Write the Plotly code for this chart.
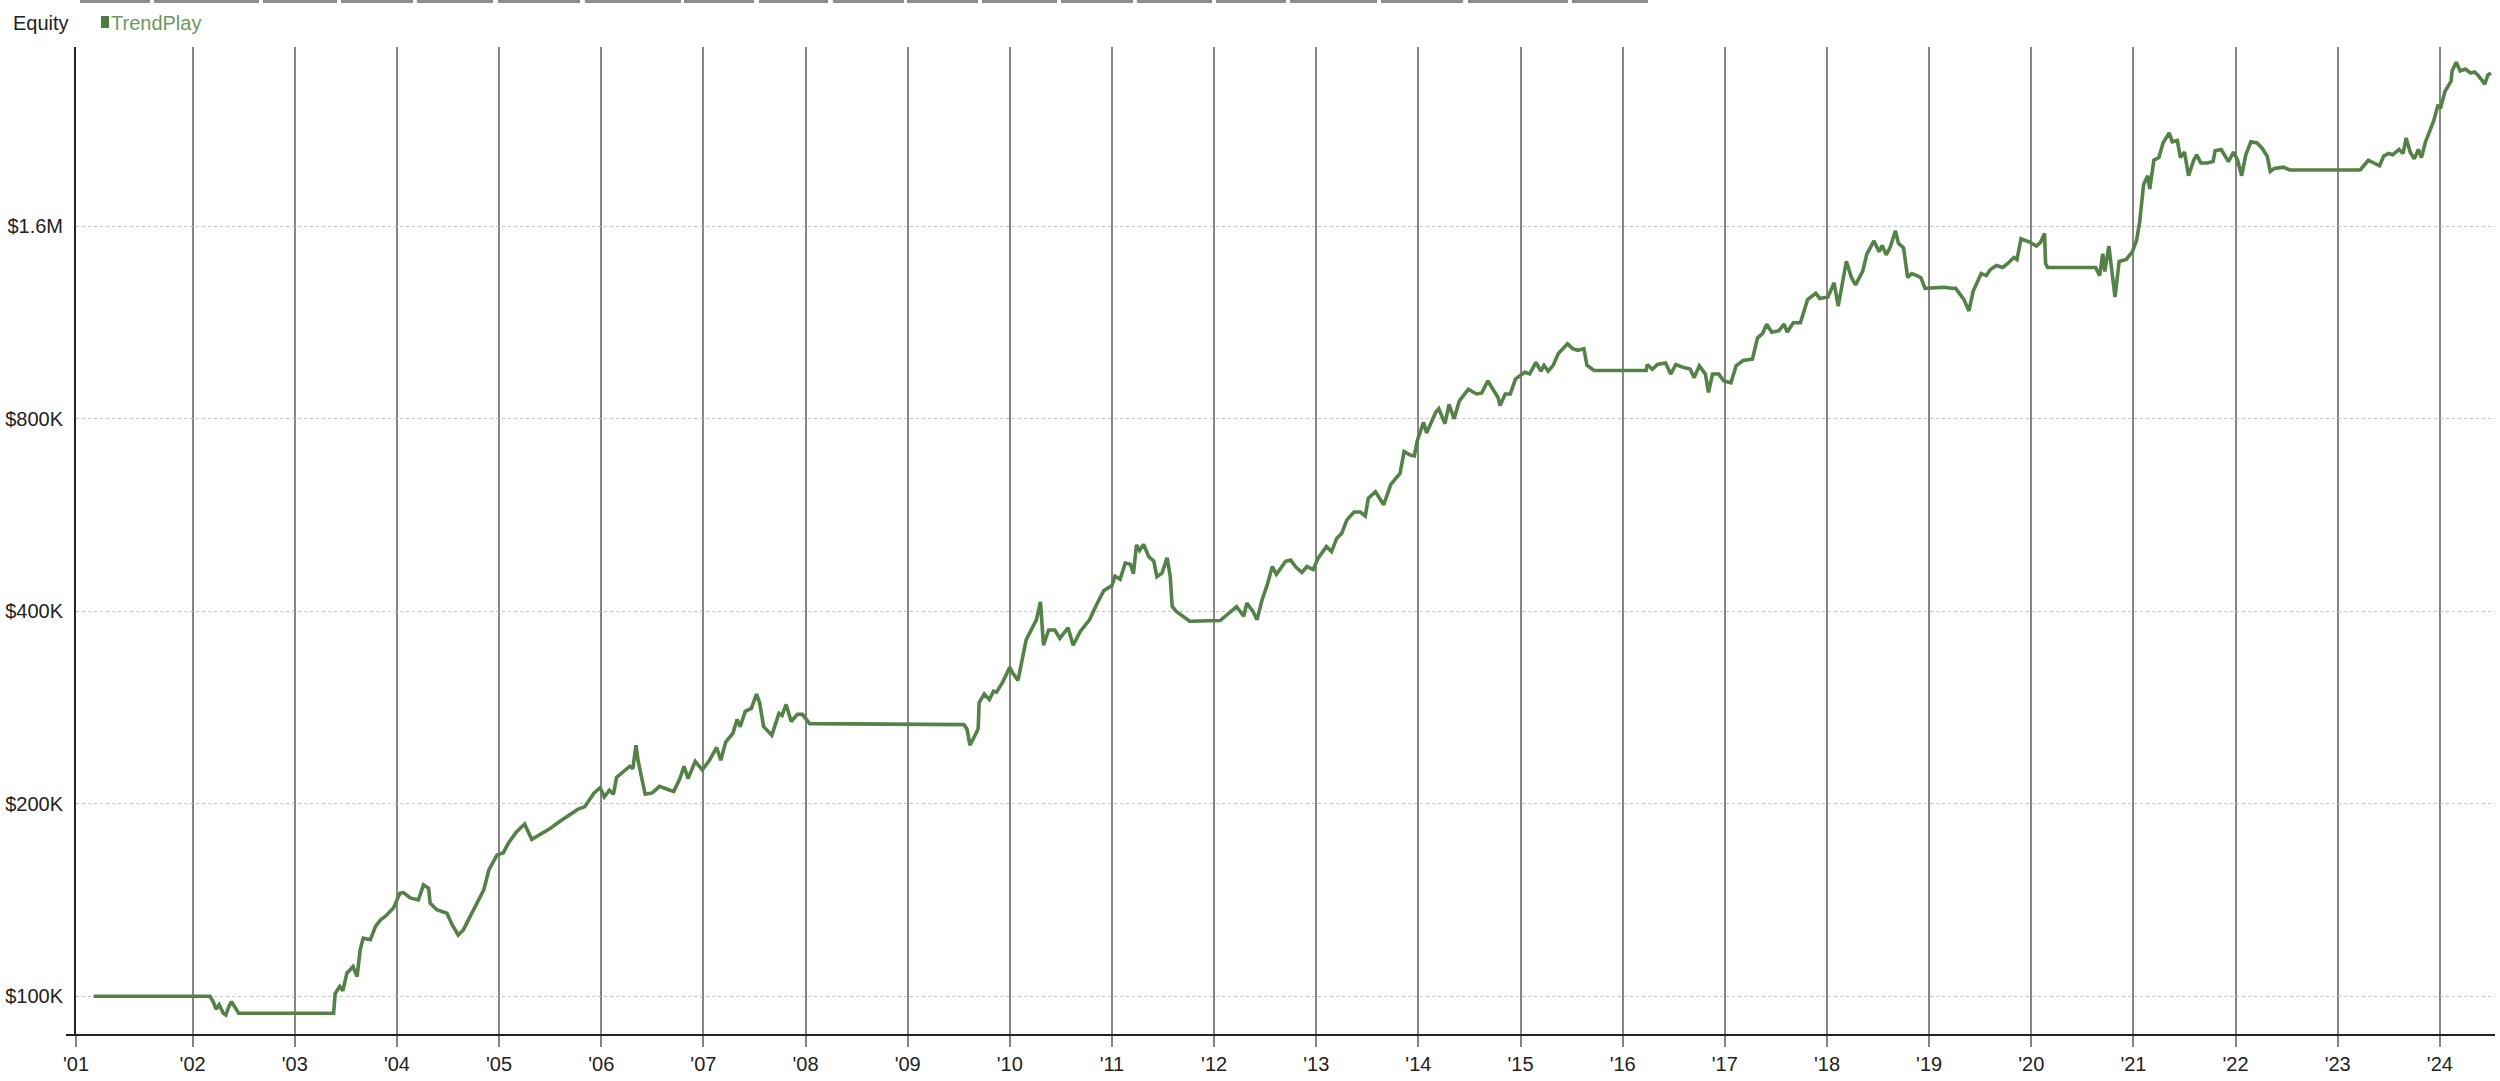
import plotly.graph_objects as go

# ---------------- data ----------------
series_name = "TrendPlay"
panel_title = "Equity"

years = [
    2001.03, 2002.17, 2002.20, 2002.23, 2002.26, 2002.30, 2002.325, 2002.35, 2002.38, 2002.41, 2002.45,
    2003.38, 2003.395, 2003.44, 2003.47, 2003.51, 2003.57, 2003.61, 2003.64, 2003.67, 2003.74, 2003.79,
    2003.84, 2003.885, 2003.92, 2003.966, 2004.03, 2004.064, 2004.13, 2004.21, 2004.26, 2004.31, 2004.325,
    2004.39, 2004.49, 2004.54, 2004.60, 2004.65, 2004.75, 2004.85, 2004.90, 2004.98, 2005.04, 2005.09,
    2005.17, 2005.25, 2005.32, 2005.40, 2005.50, 2005.60, 2005.70, 2005.77, 2005.84, 2005.93, 2005.99,
    2006.03, 2006.08, 2006.12, 2006.15, 2006.22, 2006.28, 2006.31, 2006.34, 2006.36, 2006.40, 2006.43,
    2006.50, 2006.57, 2006.64, 2006.71, 2006.77, 2006.81, 2006.85, 2006.92, 2006.99, 2007.06, 2007.13,
    2007.17, 2007.22, 2007.29, 2007.33, 2007.36, 2007.41, 2007.47, 2007.52, 2007.55, 2007.59, 2007.67,
    2007.74, 2007.77, 2007.81, 2007.86, 2007.92, 2007.97, 2008.04, 2009.55, 2009.58, 2009.61, 2009.66,
    2009.69, 2009.70, 2009.75, 2009.80, 2009.84, 2009.87, 2009.93, 2010.00, 2010.03, 2010.08, 2010.16,
    2010.26, 2010.30, 2010.33, 2010.38, 2010.44, 2010.49, 2010.57, 2010.62, 2010.69, 2010.78, 2010.85,
    2010.92, 2011.00, 2011.03, 2011.08, 2011.13, 2011.18, 2011.21, 2011.24, 2011.27, 2011.31, 2011.36,
    2011.41, 2011.44, 2011.49, 2011.54, 2011.57, 2011.59, 2011.63, 2011.70, 2011.76, 2012.06, 2012.12,
    2012.22, 2012.29, 2012.32, 2012.38, 2012.42, 2012.47, 2012.52, 2012.57, 2012.61, 2012.70, 2012.75,
    2012.80, 2012.86, 2012.91, 2012.97, 2013.02, 2013.10, 2013.15, 2013.20, 2013.25, 2013.30, 2013.37,
    2013.43, 2013.48, 2013.51, 2013.58, 2013.66, 2013.73, 2013.82, 2013.86, 2013.92, 2013.96, 2013.99,
    2014.05, 2014.08, 2014.17, 2014.20, 2014.26, 2014.30, 2014.35, 2014.40, 2014.47, 2014.49, 2014.57,
    2014.62, 2014.68, 2014.73, 2014.78, 2014.80, 2014.85, 2014.90, 2014.95, 2015.04, 2015.09, 2015.15,
    2015.20, 2015.23, 2015.27, 2015.32, 2015.37, 2015.46, 2015.51, 2015.56, 2015.62, 2015.65, 2015.72,
    2016.23, 2016.24, 2016.29, 2016.34, 2016.42, 2016.47, 2016.52, 2016.59, 2016.66, 2016.70, 2016.75,
    2016.81, 2016.84, 2016.88, 2016.94, 2016.99, 2017.06, 2017.11, 2017.18, 2017.27, 2017.32, 2017.37,
    2017.41, 2017.46, 2017.53, 2017.58, 2017.61, 2017.67, 2017.74, 2017.81, 2017.89, 2017.93, 2018.01,
    2018.07, 2018.11, 2018.14, 2018.19, 2018.24, 2018.28, 2018.35, 2018.39, 2018.46, 2018.51, 2018.54,
    2018.58, 2018.62, 2018.67, 2018.70, 2018.75, 2018.79, 2018.83, 2018.88, 2018.92, 2018.96, 2019.15,
    2019.22, 2019.26, 2019.34, 2019.39, 2019.43, 2019.51, 2019.56, 2019.60, 2019.66, 2019.72, 2019.77,
    2019.83, 2019.86, 2019.90, 2019.99, 2020.05, 2020.09, 2020.13, 2020.14, 2020.16, 2020.63, 2020.67,
    2020.70, 2020.72, 2020.76, 2020.79, 2020.82, 2020.86, 2020.93, 2020.99, 2021.03, 2021.06, 2021.10,
    2021.14, 2021.16, 2021.20, 2021.25, 2021.29, 2021.35, 2021.38, 2021.43, 2021.46, 2021.50, 2021.54,
    2021.59, 2021.62, 2021.66, 2021.72, 2021.78, 2021.80, 2021.86, 2021.93, 2021.98, 2022.02, 2022.06,
    2022.10, 2022.15, 2022.21, 2022.26, 2022.31, 2022.34, 2022.38, 2022.47, 2022.53, 2023.22, 2023.30,
    2023.37, 2023.41, 2023.45, 2023.50, 2023.54, 2023.60, 2023.64, 2023.67, 2023.71, 2023.75, 2023.79,
    2023.82, 2023.86, 2023.94, 2023.98, 2024.01, 2024.05, 2024.11, 2024.12, 2024.16, 2024.20, 2024.25,
    2024.30, 2024.34, 2024.38, 2024.44, 2024.47, 2024.50,
]

equity_k = [
    100, 100, 98.1, 95.5, 97, 94.1, 93.5, 96, 98.1, 96.5, 94.1,
    94.1, 101, 103.6, 102, 108.7, 111.3, 107.4, 118.2, 123.3, 122.6, 128.6,
    131.7, 133.3, 134.9, 137.4, 145, 145.3, 142.5, 141.5, 149.4, 147.6, 139.9,
    136.6, 134.9, 129.4, 124.7, 127, 136.5, 146.7, 157.6, 166.4, 167.5, 173.5,
    180.8, 186, 176, 179, 183, 188, 193, 196, 198, 208, 212,
    205, 210, 207, 220, 225, 229, 227, 247, 234, 218, 207,
    208, 213, 211, 209, 219, 229, 219, 233, 226, 234, 245,
    234, 250, 258, 271, 264, 279, 282, 297, 288, 264, 256,
    277, 275, 286, 269, 276, 276, 267, 266, 262, 247, 256,
    262, 288, 297, 291, 300, 299, 310, 327, 320, 312, 361,
    388, 414, 354, 374, 374, 363, 377, 354, 372, 388, 410,
    431, 439, 454, 449, 476, 474, 458, 508, 498, 509, 487,
    479, 453, 459, 485, 454, 407, 400, 393, 386, 387, 395,
    407, 393, 412, 400, 388, 417, 440, 470, 457, 479, 481,
    469, 460, 470, 465, 485, 505, 496, 520, 530, 556, 572,
    572, 564, 601, 615, 587, 632, 657, 711, 702, 700, 740,
    790, 760, 819, 830, 786, 843, 800, 853, 882, 890, 875,
    878, 917, 890, 864, 839, 875, 875, 923, 946, 941, 980,
    950, 970, 950, 970, 1012, 1048, 1030, 1024, 1030, 970, 952,
    952, 973, 956, 973, 978, 940, 973, 963, 957, 928, 968,
    940, 880, 940, 940, 917, 911, 968, 987, 992, 1070, 1088,
    1125, 1093, 1099, 1125, 1093, 1131, 1131, 1229, 1257, 1234, 1241,
    1306, 1200, 1280, 1411, 1330, 1296, 1362, 1448, 1518, 1460, 1493,
    1444, 1485, 1575, 1505, 1480, 1331, 1350, 1340, 1330, 1280, 1285,
    1280, 1280, 1230, 1180, 1265, 1350, 1340, 1370, 1390, 1380, 1400,
    1430, 1420, 1530, 1510, 1490, 1510, 1560, 1400, 1380, 1380, 1340,
    1450, 1360, 1490, 1370, 1240, 1410, 1420, 1460, 1520, 1620, 1860,
    1920, 1830, 2030, 2050, 2160, 2240, 2170, 2180, 2050, 2090, 1920,
    2030, 2070, 2010, 2010, 2020, 2100, 2110, 2020, 2090, 2030, 1920,
    2070, 2170, 2160, 2120, 2060, 1950, 1970, 1980, 1960, 1960, 2030,
    2000, 1990, 2060, 2080, 2070, 2110, 2080, 2200, 2090, 2040, 2110,
    2050, 2170, 2340, 2470, 2460, 2600, 2700, 2800, 2890, 2800, 2820,
    2780, 2790, 2750, 2670, 2760, 2780,
]

x_tick_positions = [2000.858] + list(range(2002, 2025))
x_tick_labels = ["'01"] + ["'%02d" % (y % 100) for y in range(2002, 2025)]
y_tick_values = [100000, 200000, 400000, 800000, 1600000]
y_tick_labels = ["$100K", "$200K", "$400K", "$800K", "$1.6M"]

equity = [v * 1000 for v in equity_k]

# ---------------- layout geometry ----------------
W, H = 2500, 1081
L, R, T, B = 76, 2495, 47, 1035
FONT = "Liberation Sans, Arial, sans-serif"
LINE_GREEN = "#538246"


def px(xp):
    return (xp - L) / (R - L)


def py(yp):
    return (B - yp) / (B - T)


fig = go.Figure()
fig.add_trace(go.Scatter(
    x=years, y=equity, mode="lines", name=series_name,
    line=dict(color=LINE_GREEN, width=3.6),
    showlegend=False,
))

shapes = []
# x axis line extending slightly left of the y axis
shapes.append(dict(type="line", xref="paper", yref="paper",
                   x0=px(66), x1=1.0, y0=0, y1=0,
                   line=dict(color="#222222", width=2)))
# top tab strips
tabs = [(80, 150), (154, 259), (263, 337), (341, 413), (417, 493), (498, 580), (585, 681),
        (684, 754), (759, 828), (833, 904), (907, 978), (982, 1057), (1061, 1133),
        (1137, 1212), (1216, 1286), (1290, 1377), (1381, 1463), (1468, 1568), (1572, 1648)]
for a, b in tabs:
    shapes.append(dict(type="rect", xref="paper", yref="paper",
                       x0=px(a), x1=px(b), y0=py(3), y1=py(0),
                       line=dict(width=0), fillcolor="#8c8c8c", layer="above"))
# legend square
shapes.append(dict(type="rect", xref="paper", yref="paper",
                   x0=px(101), x1=px(109), y0=py(28), y1=py(16),
                   line=dict(width=0), fillcolor="#4e7d3f"))

annotations = [
    dict(text=panel_title, xref="paper", yref="paper", x=px(11), y=py(23),
         xanchor="left", yanchor="middle", showarrow=False,
         font=dict(family=FONT, size=20, color="#222222")),
    dict(text=series_name, xref="paper", yref="paper", x=px(109), y=py(23),
         xanchor="left", yanchor="middle", showarrow=False,
         font=dict(family=FONT, size=20, color="#6b9a5c")),
]

fig.update_layout(
    width=W, height=H,
    margin=dict(l=L, r=W - R, t=T, b=H - B),
    paper_bgcolor="white", plot_bgcolor="white",
    font=dict(family=FONT, size=20, color="#222222"),
    shapes=shapes, annotations=annotations,
    showlegend=False,
    xaxis=dict(
        range=[2000.858, 2024.54],
        tickmode="array", tickvals=x_tick_positions, ticktext=x_tick_labels,
        showgrid=True, gridcolor="#858585", gridwidth=1.6,
        ticks="outside", ticklen=11, tickwidth=1.6, tickcolor="#858585",
        showline=False, zeroline=False,
        tickfont=dict(family=FONT, size=20, color="#222222"),
    ),
    yaxis=dict(
        type="log",
        range=[4.9395, 6.4846],
        tickmode="array", tickvals=y_tick_values, ticktext=y_tick_labels,
        showgrid=True, gridcolor="#c4c4c4", gridwidth=1, griddash="dot",
        ticks="", ticklabelstandoff=7,
        showline=True, linecolor="#222222", linewidth=2,
        zeroline=False,
        tickfont=dict(family=FONT, size=20, color="#222222"),
    ),
)

fig.write_html("out.html", config={"displayModeBar": False},
               post_script="document.body.style.margin='0';")
